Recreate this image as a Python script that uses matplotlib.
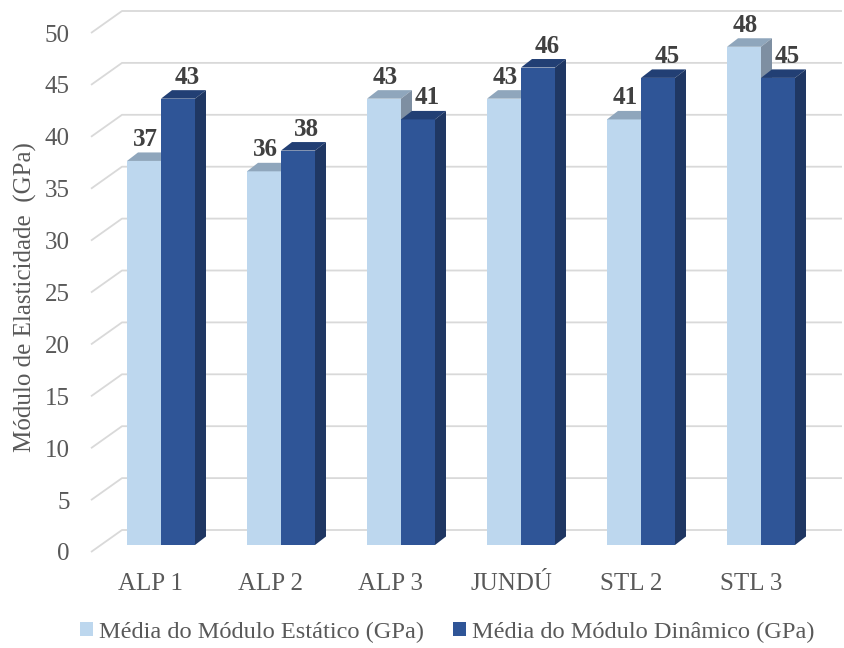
import matplotlib
matplotlib.use("Agg")
import matplotlib.pyplot as plt
from matplotlib.patches import Polygon, Patch

# ---- data ----
categories = ["ALP 1", "ALP 2", "ALP 3", "JUNDÚ", "STL 2", "STL 3"]
estatico = [37, 36, 43, 43, 41, 48]
dinamico = [43, 38, 41, 46, 45, 45]
series_names = ["Média do Módulo Estático (GPa)", "Média do Módulo Dinâmico (GPa)"]
yticks = [0, 5, 10, 15, 20, 25, 30, 35, 40, 45, 50]
ylabel = "Módulo de Elasticidade  (GPa)"

# ---- geometry (pixels on a 845x648 canvas) ----
W, H = 845, 648
PX_X = 120.0      # pixels per category
PX_Y = 10.38      # pixels per GPa
X0_PX = 161.0     # pixel x of first category (bar plane)
Y0_PX = 545.0     # pixel y (from top) of value 0 in bar plane

def dx(px):
    return px / PX_X

def dy(px):
    return px / PX_Y

BAR_W = dx(34)
BAR_DX, BAR_DY = dx(11), dy(8.5)          # bar depth
FRONT_DX, FRONT_DY = dx(-10), dy(-7)      # floor front edge vs bar plane
BACK_DX, BACK_DY = dx(21), dy(15)         # back wall vs bar plane

colors = {
    "light": dict(front="#BDD7EE", top="#8FA6BC", side="#7E8FA2"),
    "dark": dict(front="#2F5597", top="#223F74", side="#1F3763"),
}

FONT = "Liberation Serif"
FS = 18

fig = plt.figure(figsize=(W / 100, H / 100), dpi=100)
ax = fig.add_axes([0, 0, 1, 1])
ax.set_xlim(-X0_PX / PX_X, (W - X0_PX) / PX_X)
ax.set_ylim((Y0_PX - H) / PX_Y, Y0_PX / PX_Y)
ax.axis("off")

# gridlines: side wall + back wall
x_left, x_right = -0.5, len(categories) - 0.5
for v in yticks:
    xs = [x_left + FRONT_DX, x_left + BACK_DX, x_right + BACK_DX]
    ys = [v + FRONT_DY, v + BACK_DY, v + BACK_DY]
    ax.plot(xs, ys, color="#d9d9d9", lw=1.3, zorder=1, solid_capstyle="butt")
    ax.text(x_left + FRONT_DX - dx(21), v + FRONT_DY, str(v), ha="right",
            va="center_baseline", fontsize=FS, family=FONT, color="#595959")


def bar3d(x0, v, pal, z):
    x1 = x0 + BAR_W
    ax.add_patch(Polygon([(x0, 0), (x1, 0), (x1, v), (x0, v)], closed=True,
                         facecolor=pal["front"], lw=0, zorder=z))
    ax.add_patch(Polygon([(x0, v), (x1, v), (x1 + BAR_DX, v + BAR_DY),
                          (x0 + BAR_DX, v + BAR_DY)], closed=True,
                         facecolor=pal["top"], lw=0, zorder=z))
    ax.add_patch(Polygon([(x1, 0), (x1 + BAR_DX, BAR_DY),
                          (x1 + BAR_DX, v + BAR_DY), (x1, v)], closed=True,
                         facecolor=pal["side"], lw=0, zorder=z))


z = 2
for i, (a, b) in enumerate(zip(estatico, dinamico)):
    bar3d(i - BAR_W, a, colors["light"], z)
    bar3d(i, b, colors["dark"], z + 1)
    z += 2
    ax.text(i - BAR_W / 2 + dx(1), a + dy(15), str(a), ha="center", va="baseline",
            fontsize=FS, fontweight="bold", family=FONT, color="#404040", zorder=50)
    ax.text(i + BAR_W / 2 + dx(9), b + dy(15), str(b), ha="center", va="baseline",
            fontsize=FS, fontweight="bold", family=FONT, color="#404040", zorder=50)
    ax.text(i + FRONT_DX, dy(-45), categories[i], ha="center", va="baseline",
            fontsize=FS, family=FONT, color="#595959")

fig.text(25 / W, 1 - 297 / H, ylabel, rotation=90, ha="center", va="center",
         fontsize=FS, family=FONT, color="#595959")

handles = [Patch(facecolor=colors["light"]["front"], edgecolor="none"),
           Patch(facecolor=colors["dark"]["front"], edgecolor="none")]
leg = fig.legend(handles, series_names, loc="center", ncol=2, frameon=False,
                 bbox_to_anchor=(447.5 / W, 16 / H),
                 prop=dict(family=FONT, size=17.6),
                 handlelength=0.52, handleheight=0.52, handletextpad=0.25,
                 columnspacing=1.2, borderpad=0.1)
for t in leg.get_texts():
    t.set_color("#595959")

fig.savefig("out.png", dpi=100)
